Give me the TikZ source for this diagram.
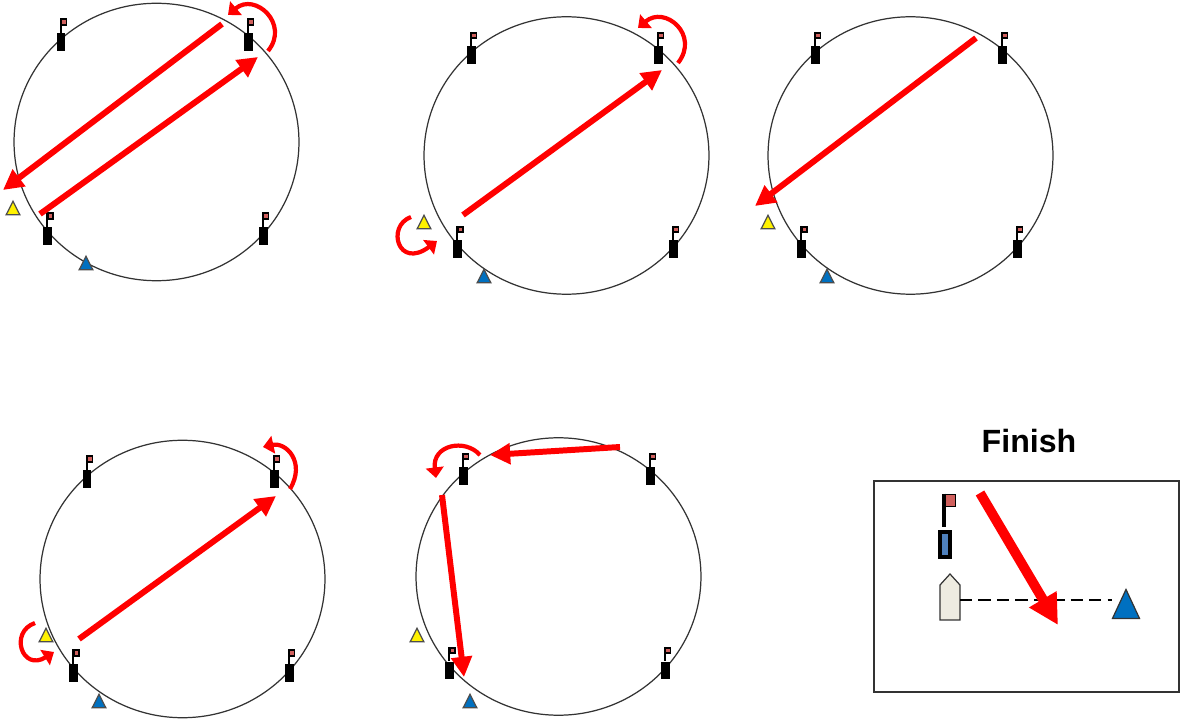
\documentclass[tikz,border=0pt]{standalone}
\usepackage{fontspec}
\setmainfont{Liberation Sans}
\usetikzlibrary{arrows.meta,positioning,shapes.geometric}
\definecolor{markblue}{HTML}{0070C0}
\definecolor{flagred}{HTML}{D0605D}
\definecolor{pinblue}{HTML}{4F81BD}
\definecolor{hull}{HTML}{EEECE1}

\begin{document}
\begin{tikzpicture}[x=0.02cm,y=-0.02cm]
\tikzstyle{course} = [ellipse, draw=black!80, line width=0.7pt, inner sep=0pt, minimum width=5.7cm, minimum height=5.55cm]
\tikzstyle{leg} = [-{Triangle[length=11.5pt,width=11.5pt]}, red, line width=3.4pt]
\tikzstyle{turn} = [-{Triangle[length=6pt,width=10pt]}, red, line width=2.4pt]
\tikzstyle{body} = [rectangle, fill=black, inner sep=0pt, minimum width=0.18cm, minimum height=0.36cm]
\tikzstyle{pennant} = [rectangle, draw=black, line width=1.1pt, fill=flagred, inner sep=0pt, minimum width=0.1cm, minimum height=0.11cm]
\tikzstyle{buoy} = [isosceles triangle, isosceles triangle apex angle=54, shape border rotate=90, draw=black!70, line width=0.7pt, inner sep=0pt, minimum height=0.27cm, anchor=apex]
\useasboundingbox (0,0) rectangle (1181,719);
% courses with four flagged buoys each
\foreach \name/\cx/\cy in {one/156.5/142, two/566.5/155.5, three/910.5/155.5, four/182.5/579, five/558.5/576.5} {
  \node[course] (\name) at (\cx,\cy) {};
  \foreach \i/\dx/\dy in {a/-95.5/-100, b/91.5/-100, c/-109/94, d/106.5/94} {
    \node[body] (\name\i) at (\cx+\dx,\cy+\dy) {};
    \node[pennant] (\name\i f) at (\cx+\dx+3,\cy+\dy-20) {};
    \draw[line width=1.1pt] (\name\i f.north west) -- (\name\i f.north west |- \name\i.north);
  }
}
% starting marks
\node[buoy, fill=yellow] (y1) at (13,200) {};
\node[buoy, fill=markblue] (b1) at (86,255) {};
\node[buoy, fill=yellow] (y2) at (424,214) {};
\node[buoy, fill=markblue] (b2) at (484,268) {};
\node[buoy, fill=yellow] (y3) at (768,214) {};
\node[buoy, fill=markblue] (b3) at (827,268) {};
\node[buoy, fill=yellow] (y4) at (46,627) {};
\node[buoy, fill=markblue] (b4) at (99,693) {};
\node[buoy, fill=yellow] (y5) at (417,627) {};
\node[buoy, fill=markblue] (b5) at (470,693) {};
% legs
\coordinate (s1) at (222,24); \coordinate (e1) at (3,190);
\coordinate (s2) at (40,214); \coordinate (e2) at (258,57);
\coordinate (s3) at (463,215); \coordinate (e3) at (662,70);
\coordinate (s4) at (976,38); \coordinate (e4) at (755,206);
\coordinate (s5) at (79,639); \coordinate (e5) at (276,496);
\coordinate (s6) at (620,447); \coordinate (e6) at (490,455);
\coordinate (s7) at (442,495); \coordinate (e7) at (464,677);
\draw[leg] (s1) -- (e1);
\draw[leg] (s2) -- (e2);
\draw[leg] (s3) -- (e3);
\draw[leg] (s4) -- (e4);
\draw[leg] (s5) -- (e5);
\draw[leg] (s6) -- (e6);
\draw[leg] (s7) -- (e7);
% tacks round the buoys
\draw[turn] (268,51) .. controls (290,24) and (255,-8) .. (228,15);
\draw[turn] (678,63) .. controls (700,35) and (665,5) .. (638,28);
\draw[turn] (290,489) .. controls (306,462) and (286,442) .. (263,447);
\draw[turn] (411,217) .. controls (386,226) and (398,270) .. (437,241);
\draw[turn] (35,623) .. controls (9,632) and (22,672) .. (54,652);
\draw[turn] (480,455) .. controls (465,438) and (432,445) .. (436,478);
% finish
\node[font=\bfseries\fontsize{18.3}{20}\selectfont] (title) at (1029,441) {Finish};
\node[rectangle, draw=black!80, line width=0.8pt, inner sep=0pt, minimum width=6.1cm, minimum height=4.22cm] (box) at (1026.5,586.5) {};
\node[rectangle, draw=black, line width=2.5pt, fill=pinblue, inner sep=0pt, minimum width=0.19cm, minimum height=0.49cm] (pin) at (945,544.5) {};
\node[rectangle, draw=black, line width=0.7pt, fill=flagred, inner sep=0pt, minimum width=0.25cm, minimum height=0.25cm] (flag) at (949.5,500.5) {};
\draw[line width=2pt] (flag.north west) ++(1.5,0) -- ++(0,33);
\node[buoy, fill=markblue, draw=black!80, minimum height=0.58cm, isosceles triangle apex angle=50] (finishbuoy) at (1126,588) {};
\draw[draw=black!80, fill=hull, line width=0.7pt] (940,620) -- (960,620) -- (960,585) -- (950,574) -- (940,585) -- cycle;
\coordinate (boat) at (960,600);
\draw[line width=0.7pt, dash pattern=on 7pt off 3.5pt] (boat) -- (finishbuoy.left corner |- boat);
\coordinate (s8) at (980,493); \coordinate (e8) at (1058,625);
\draw[-{Triangle[length=17pt,width=17pt]}, red, line width=5.6pt] (s8) -- (e8);
\end{tikzpicture}
\end{document}
